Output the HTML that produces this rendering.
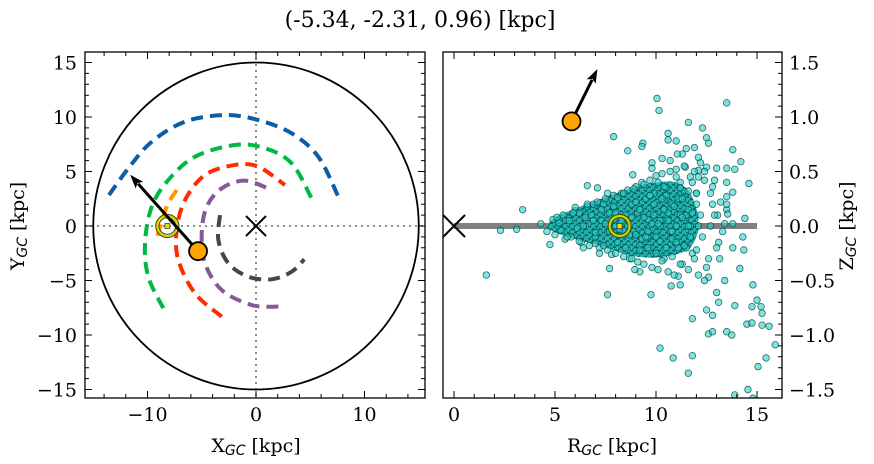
<!DOCTYPE html>
<html><head><meta charset="utf-8"><style>
html,body{margin:0;padding:0;background:#fff;}
svg{display:block;font-family:"DejaVu Serif","Liberation Serif",serif;}
.sub{font-family:"DejaVu Sans","Liberation Sans",sans-serif;font-style:italic;}
</style></head><body>
<svg id="fig" width="874" height="464" viewBox="0 0 874 464" xmlns="http://www.w3.org/2000/svg">
<defs>
<pattern id="dense" x="0" y="0" width="7" height="6" patternUnits="userSpaceOnUse">
<rect width="7" height="6" fill="#138f8f"/>
<circle cx="1.75" cy="1.5" r="3" fill="#22b2b0" stroke="#065454" stroke-width="0.7"/>
<circle cx="5.25" cy="4.5" r="3" fill="#22b2b0" stroke="#065454" stroke-width="0.7"/>
</pattern>
</defs>
<text x="420" y="27" font-size="22" text-anchor="middle">(-5.34, -2.31, 0.96) [kpc]</text>
<g id="left"></g>
<g id="right"></g>
<text x="256" y="452" font-size="19" text-anchor="middle">X<tspan class="sub" font-size="14" dy="3">GC</tspan><tspan dy="-3"> [kpc]</tspan></text>
<text transform="translate(24,226) rotate(-90)" font-size="19" text-anchor="middle">Y<tspan class="sub" font-size="14" dy="3">GC</tspan><tspan dy="-3"> [kpc]</tspan></text>
<text x="612" y="452" font-size="19" text-anchor="middle">R<tspan class="sub" font-size="14" dy="3">GC</tspan><tspan dy="-3"> [kpc]</tspan></text>
<text transform="translate(853,226) rotate(-90)" font-size="19" text-anchor="middle">Z<tspan class="sub" font-size="14" dy="3">GC</tspan><tspan dy="-3"> [kpc]</tspan></text>
</svg>
<script>
const xTicksL=[-10,0,10];
const yTicksL=[-15,-10,-5,0,5,10,15];
const xTicksR=[0,5,10,15];
const yTicksR=[-1.5,-1.0,-0.5,0.0,0.5,1.0,1.5];
const yTickLabelsR=["−1.5","−1.0","−0.5","0.0","0.5","1.0","1.5"];
const starPos=[-5.34,-2.31,0.96];
const arrowTipXY=[-11.6,4.7];
const arrowTipRZ=[7.1,1.44];
const sunXY=[-8.17,0];
const sunRZ=[8.2,0];
const orbitBlue=[[-13.55,2.84],[-11.77,5.29],[-9.61,7.73],[-6.54,9.57],[-2.86,10.18],[0.21,9.72],[3.29,8.5],[5.74,6.36],[7.59,2.69]];
const orbitGreen=[[-8.54,-7.55],[-9.93,-4.65],[-10.23,-1.59],[-9.61,1.77],[-8.08,4.22],[-5.62,6.36],[-1.94,7.43],[0.83,7.13],[3.29,5.75],[5.13,2.54]];
const orbitRed=[[-3.16,-8.32],[-5.62,-6.18],[-7.16,-3.12],[-7.31,-0.37],[-6.54,2.39],[-4.7,4.68],[-1.94,5.6],[0.21,5.44],[2.67,3.76]];
const orbitPurple=[[2.06,-7.4],[-0.4,-7.25],[-3.16,-5.87],[-4.7,-3.42],[-5.0,-0.67],[-4.54,1.77],[-3.16,3.46],[-1.01,4.16],[1.45,3.3]];
const orbitGray=[[-3.32,1.0],[-3.47,-1.28],[-2.55,-3.42],[-0.71,-4.65],[1.45,-4.89],[3.29,-4.19],[4.45,-3.06]];
const orbitOrange=[[-7.31,3.3],[-8.23,1.77],[-9.15,-1.13]];
const coreR=[4.6,5,6,7,8,9,10,11,11.7,12.1];
const coreTop=[0.01,0.08,0.16,0.23,0.3,0.36,0.4,0.4,0.3,0.1];
const coreBot=[-0.01,-0.06,-0.12,-0.17,-0.23,-0.28,-0.29,-0.26,-0.2,-0.05];
const starR=[10.05,13.5,10.15,11.6,12.3,7.9,10.6,13.8,8.6,9.35,14.2,14.6,14.4,3.4,2.3,3.1,1.6,7.6,9.75,4.75,6.6,7.1,8.85,14.8,13.9,11.8,12.5,12.8,13.0,13.1,14.75,15.0,15.2,15.25,14.5,14.75,15.25,15.6,15.9,13.5,13.75,12.6,12.8,10.2,10.85,11.8,11.6,15.45,15.05,13.9,14.55,14.8,13.5,13.55,14.3,14.35,13.8,14.15,13.4,12.6,12.4,13.15,11.2,10.75,11.1,9.2,8.95,7.7,10.6,11.0,11.5,11.9,12.5,12.6,12.1,11.3,10.7,10.3,11.05,9.8,9.8,9.3,11.45,12.1,12.5,13.0,13.5,13.9,13.5,13.8,13.5,13.05,12.8,13.5,13.4,13.8,
4.3,4.6,4.9,5.0,5.2,5.4,5.5,5.7,5.8,6.0,6.1,6.2,6.3,6.5,6.6,6.7,6.9,7.0,7.1,7.2,7.3,7.5,7.6,7.7,7.8,7.9,8.0,8.1,8.3,8.4,8.5,8.6,8.7,8.8,8.9,9.0,9.1,9.2,9.3,9.4,9.5,9.6,9.7,9.8,9.9,10.0,10.1,10.2,10.3,10.4,10.5,10.6,10.7,10.8,10.9,11.0,11.1,11.2,11.3,11.4,11.5,11.6,11.7,11.8,11.9,12.0,12.1,12.2,12.3,12.4,
5.1,5.6,6.0,6.4,6.8,7.2,7.4,7.6,8.0,8.2,8.4,8.8,9.0,9.2,9.4,9.6,9.9,10.1,10.3,10.5,10.8,11.0,11.2,11.4,11.6,11.9,12.1,
5.3,5.9,6.2,6.6,7.0,7.3,7.7,8.1,8.5,8.9,9.3,9.7,10.0,10.4,10.7,11.1,11.5,11.8,12.2,
6.4,6.9,7.4,7.9,8.3,8.7,9.1,9.5,9.9,10.2,10.6,11.0,11.3,11.7,12.0,
7.0,7.5,8.0,8.4,8.8,9.2,9.6,10.0,10.4,10.8,11.2,11.6,12.0,
8.2,8.6,9.0,9.4,9.8,10.2,10.6,11.0,11.4,11.8,
9.2,9.6,10.1,10.5,10.9,11.3,11.7,12.1,
9.7,10.3,10.8,11.2,11.6,12.0,
12.7,12.9,13.1,12.6,12.9,13.2,12.7,13.0,12.4,12.8,13.3,12.5];
const starZ=[1.17,1.13,1.06,0.95,0.9,0.82,0.85,0.7,0.69,0.76,0.59,0.39,0.07,0.15,-0.04,-0.03,-0.45,-0.63,-0.63,-0.17,0.37,0.35,0.47,-0.54,-0.73,-0.85,-0.77,-0.82,-0.61,-0.7,-0.74,-0.68,-0.74,-0.8,-0.9,-0.89,-0.91,-0.92,-1.09,-0.97,-1.0,-0.99,-0.97,-1.12,-1.21,-1.19,-1.35,-1.21,-1.29,-1.55,-1.5,-1.58,0.15,0.11,-0.1,-0.22,-0.2,-0.39,-0.5,-0.47,-0.5,-0.3,-0.54,-0.55,-0.46,-0.42,-0.4,-0.39,0.79,0.78,0.71,0.72,0.81,0.76,0.63,0.66,0.6,0.62,0.66,0.58,0.53,0.73,0.54,0.51,0.54,0.53,0.53,0.52,0.4,0.31,0.27,0.1,0.2,0.2,0.02,0.02,
0.02,-0.05,0.06,-0.08,0.03,0.1,-0.12,0.05,-0.1,0.14,-0.02,0.12,-0.15,0.08,0.18,-0.18,0.2,-0.1,0.22,-0.2,0.05,0.25,-0.22,0.12,-0.26,0.28,0.0,-0.15,0.3,-0.28,0.1,0.33,-0.3,0.2,-0.05,0.36,-0.33,0.15,0.4,-0.35,0.25,-0.1,0.42,-0.38,0.3,0.46,-0.4,0.05,0.48,-0.3,0.35,-0.42,0.5,0.2,-0.45,0.52,-0.2,0.4,-0.35,0.55,0.1,-0.4,0.45,-0.25,0.5,0.3,-0.45,0.58,-0.1,0.42,
0.08,-0.1,0.17,-0.2,0.1,-0.25,0.2,0.3,-0.25,0.02,0.3,-0.3,0.22,-0.18,0.38,-0.2,0.1,0.4,-0.32,0.28,-0.12,0.45,-0.35,0.32,0.15,-0.3,0.45,
-0.04,0.12,-0.14,0.2,-0.16,0.15,-0.05,0.26,-0.2,0.34,-0.12,0.28,-0.25,0.36,-0.05,0.25,-0.2,0.4,0.1,
0.0,0.05,-0.18,0.18,0.05,-0.08,0.12,-0.1,0.2,0.0,0.12,-0.15,0.25,0.0,0.3,
-0.06,0.02,0.12,-0.04,0.08,-0.22,0.06,-0.1,0.15,-0.05,0.1,0.0,0.2,
-0.03,0.0,-0.08,0.08,0.02,-0.14,0.05,0.0,-0.18,0.12,
0.15,-0.05,0.02,-0.2,0.18,0.08,-0.1,0.0,
0.28,0.25,-0.28,0.35,0.32,-0.22,
0.3,0.1,-0.15,-0.3,0.42,0.22,0.0,-0.2,0.5,0.36,-0.05,-0.38];

const NS="http://www.w3.org/2000/svg";
function mk(parent,tag,attrs){const e=document.createElementNS(NS,tag);for(const k in attrs)e.setAttribute(k,attrs[k]);parent.appendChild(e);return e;}
function smoothPath(P){
  let d='M'+P[0][0]+','+P[0][1];
  for(let i=0;i<P.length-1;i++){
    const p0=P[Math.max(i-1,0)],p1=P[i],p2=P[i+1],p3=P[Math.min(i+2,P.length-1)];
    const c1=[p1[0]+(p2[0]-p0[0])/6,p1[1]+(p2[1]-p0[1])/6];
    const c2=[p2[0]-(p3[0]-p1[0])/6,p2[1]-(p3[1]-p1[1])/6];
    d+=` C${c1[0]},${c1[1]} ${c2[0]},${c2[1]} ${p2[0]},${p2[1]}`;
  }
  return d;
}

// LEFT PANEL
const L=document.getElementById('left');
const lx0=85,lx1=425,ly0=52,ly1=398;
const xL=v=>256+v*10.85, yL=v=>226-v*10.9;
let e;
e=mk(L,'line',{x1:xL(0),y1:ly0,x2:xL(0),y2:ly1,stroke:'#808080','stroke-width':1.8,'stroke-dasharray':'2,4'});


e=mk(L,'line',{x1:lx0,y1:yL(0),x2:lx1,y2:yL(0),stroke:'#808080','stroke-width':1.8,'stroke-dasharray':'2,4'});


e=mk(L,'ellipse',{cx:xL(0),cy:yL(0),rx:15*10.85,ry:15*10.9,fill:'none',stroke:'#000','stroke-width':1.8});


const orbits=[[orbitBlue,'#0C5DA5','orbit-blue'],[orbitGreen,'#00B945','orbit-green'],[orbitRed,'#FF2C00','orbit-red'],[orbitPurple,'#845B97','orbit-purple'],[orbitGray,'#474747','orbit-gray'],[orbitOrange,'#FF9500','orbit-orange']];
orbits.forEach(([pts,col,nm])=>{
  const P=pts.map(p=>[xL(p[0]),yL(p[1])]);
  const p=mk(L,'path',{d:smoothPath(P),fill:'none',stroke:col,'stroke-width':4,'stroke-dasharray':'12,7'});
  
  
});
function cross(g,cx,cy,s,nm){
  const p=mk(g,'path',{d:`M${cx-s},${cy-s}L${cx+s},${cy+s}M${cx-s},${cy+s}L${cx+s},${cy-s}`,stroke:'#000','stroke-width':2,fill:'none'});
  
  
}
cross(L,xL(0),yL(0),10,'galactic-center-marker');
function sun(g,cx,cy,nm){
  const s=mk(g,'g',{});
  
  
  mk(s,'circle',{cx:cx,cy:cy,r:11.5,fill:'none',stroke:'#4a4a00','stroke-width':1.2});
  mk(s,'circle',{cx:cx,cy:cy,r:10,fill:'none',stroke:'#d8d800','stroke-width':2});
  mk(s,'circle',{cx:cx,cy:cy,r:8.3,fill:'none',stroke:'#4a4a00','stroke-width':1});
  mk(s,'rect',{x:cx-2.5,y:cy-2.5,width:5,height:5,fill:'#e8e000',stroke:'#444','stroke-width':0.8});
}
sun(L,xL(sunXY[0]),yL(sunXY[1]),'sun-marker-xy');
function arrow(g,x0,y0,x1,y1,nm){
  const a=mk(g,'g',{});
  
  
  const dx=x1-x0,dy=y1-y0,len=Math.hypot(dx,dy),ux=dx/len,uy=dy/len;
  const hl=14,hw=5;
  const bx=x1-ux*hl,by=y1-uy*hl;
  mk(a,'line',{x1:x0,y1:y0,x2:bx+ux*2,y2:by+uy*2,stroke:'#000','stroke-width':3});
  mk(a,'path',{d:`M${x1},${y1}L${bx-uy*hw},${by+ux*hw}L${bx+ux*3},${by+uy*3}L${bx+uy*hw},${by-ux*hw}Z`,fill:'#000'});
}
arrow(L,xL(starPos[0]),yL(starPos[1]),xL(arrowTipXY[0]),yL(arrowTipXY[1]),'velocity-arrow-xy');
e=mk(L,'circle',{cx:xL(starPos[0]),cy:yL(starPos[1]),r:9,fill:'#FFA500',stroke:'#000','stroke-width':1.8});


e=mk(L,'rect',{x:lx0,y:ly0,width:lx1-lx0,height:ly1-ly0,fill:'none',stroke:'#000','stroke-width':1.3});


let tk='';
for(let v=-14;v<=14;v+=2){const x=xL(v);const maj=v%10===0;const l=maj?7:4;tk+=`M${x},${ly1}v${-l}M${x},${ly0}v${l}`;}
for(let v=-15;v<=15;v++){const y=yL(v);const maj=v%5===0;const l=maj?7:4;tk+=`M${lx0},${y}h${l}M${lx1},${y}h${-l}`;}
e=mk(L,'path',{d:tk,stroke:'#000','stroke-width':1});


xTicksL.forEach(v=>{const t=mk(L,'text',{x:xL(v),y:421,'font-size':19,'text-anchor':'middle'});t.textContent=(v<0?'−':'')+Math.abs(v);

});
yTicksL.forEach(v=>{const t=mk(L,'text',{x:77,y:yL(v)+7,'font-size':19,'text-anchor':'end'});t.textContent=(v<0?'−':'')+Math.abs(v);

});

// RIGHT PANEL
const R=document.getElementById('right');
const rx0=443,rx1=782,ry0=52,ry1=398;
const xR=v=>454+v*20.2, yR=v=>226-v*109;
const clip=mk(R,'clipPath',{id:'rclip'});mk(clip,'rect',{x:rx0,y:ry0,width:rx1-rx0,height:ry1-ry0});
const inner=mk(R,'g',{'clip-path':'url(#rclip)'});
e=mk(inner,'line',{x1:xR(0),y1:yR(0),x2:xR(15),y2:yR(0),stroke:'#808080','stroke-width':6});


const topPts=coreR.map((r,i)=>[xR(r),yR(coreTop[i])]);
const botPts=coreR.map((r,i)=>[xR(r),yR(coreBot[i])]).reverse();
e=mk(inner,'path',{d:smoothPath(topPts)+' L'+botPts[0][0]+','+botPts[0][1]+smoothPath(botPts).replace(/^M[^C]*/,'')+'Z',fill:'url(#dense)',stroke:'none'});


const sg=mk(inner,'g',{});


for(let i=0;i<starR.length;i++){
  const c=mk(sg,'circle',{cx:xR(starR[i]),cy:yR(starZ[i]),r:3.3,fill:'rgba(40,210,200,0.6)',stroke:'rgba(0,60,60,0.75)','stroke-width':0.8});
  
  
}
cross(inner,xR(0),yR(0),11,'galactic-center-marker-rz');
sun(inner,xR(sunRZ[0]),yR(sunRZ[1]),'sun-marker-rz');
const rs=Math.hypot(starPos[0],starPos[1]);
arrow(inner,xR(rs),yR(starPos[2]),xR(arrowTipRZ[0]),yR(arrowTipRZ[1]),'velocity-arrow-rz');
e=mk(inner,'circle',{cx:xR(rs),cy:yR(starPos[2]),r:9,fill:'#FFA500',stroke:'#000','stroke-width':1.8});


e=mk(R,'rect',{x:rx0,y:ry0,width:rx1-rx0,height:ry1-ry0,fill:'none',stroke:'#000','stroke-width':1.3});


tk='';
for(let v=0;v<=15;v++){const x=xR(v);const l=v%5===0?7:4;tk+=`M${x},${ry1}v${-l}M${x},${ry0}v${l}`;}
for(let k=-15;k<=15;k++){const y=yR(k/10);const l=k%5===0?7:4;tk+=`M${rx1},${y}h${-l}`;}
e=mk(R,'path',{d:tk,stroke:'#000','stroke-width':1});


xTicksR.forEach(v=>{const t=mk(R,'text',{x:xR(v),y:421,'font-size':19,'text-anchor':'middle'});t.textContent=String(v);

});
yTicksR.forEach((v,i)=>{const t=mk(R,'text',{x:789,y:yR(v)+7,'font-size':19,'text-anchor':'start'});t.textContent=yTickLabelsR[i];

});
</script>
</body></html>
